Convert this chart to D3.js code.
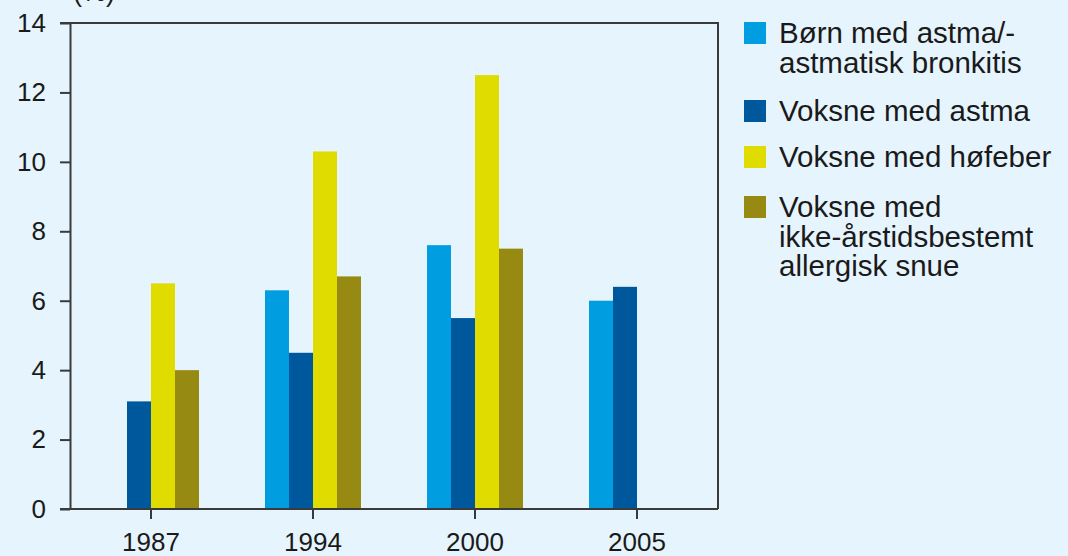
<!DOCTYPE html>
<html>
<head>
<meta charset="utf-8">
<script src="https://cdn.jsdelivr.net/npm/d3@7"></script>
<style>
    body { margin: 0; background: #e6f4fd; overflow: hidden; }
    svg { display: block; font-family: "Liberation Sans", Arial, Helvetica, sans-serif; }
    .axis path, .axis line { stroke: #3a3a3a; stroke-width: 2; }
    .axis text { font-size: 26px; fill: #1a1a1a; }
</style>
</head>
<body>
<script>
(function(){

    //chart data
    var years = ["1987", "1994", "2000", "2005"];
    var seriesNames = [
        ["Børn med astma/-", "astmatisk bronkitis"],
        ["Voksne med astma"],
        ["Voksne med høfeber"],
        ["Voksne med", "ikke-årstidsbestemt", "allergisk snue"]
    ];
    var barnAstma    = [null, 6.3, 7.6, 6.0];
    var voksneAstma  = [3.1, 4.5, 5.5, 6.4];
    var hofeber      = [6.5, 10.3, 12.5, null];
    var allergiSnue  = [4.0, 6.7, 7.5, null];
    var yTicks = [0, 2, 4, 6, 8, 10, 12, 14];

    var colors = ["#009ee0", "#00589c", "#e0dc00", "#968a12"];
    var allSeries = [barnAstma, voksneAstma, hofeber, allergiSnue];

    var width = 1068, height = 556;
    var plot = {left: 70, right: 718, top: 23, bottom: 509};

    var svg = d3.select("body")
        .append("svg")
        .attr("width", width)
        .attr("height", height);

    var x = d3.scaleBand()
        .domain(years)
        .range([plot.left, plot.right]);

    //inner scale for the four bars in a group
    var barW = 24;
    var xInner = d3.scaleBand()
        .domain(d3.range(4))
        .range([-2 * barW, 2 * barW]);

    var y = d3.scaleLinear()
        .domain([0, 14])
        .range([plot.bottom, plot.top]);

    //bars
    allSeries.forEach(function(values, s){
        var rows = years.map(function(yr, i){ return {year: yr, v: values[i]}; })
            .filter(function(d){ return d.v != null; });
        svg.selectAll(".bar-" + s)
            .data(rows)
            .enter()
            .append("rect")
            .attr("class", "bar-" + s)
            .attr("x", function(d){ return x(d.year) + x.bandwidth() / 2 + xInner(s); })
            .attr("width", xInner.bandwidth())
            .attr("y", function(d){ return y(d.v); })
            .attr("height", function(d){ return y(0) - y(d.v); })
            .attr("fill", colors[s]);
    });

    //frame top and right
    svg.append("path")
        .attr("d", "M" + (plot.left - 10) + "," + plot.top + "H" + plot.right + "V" + plot.bottom)
        .attr("fill", "none")
        .attr("stroke", "#3a3a3a")
        .attr("stroke-width", 2);

    //y axis
    svg.append("g")
        .attr("class", "axis")
        .attr("transform", "translate(" + plot.left + ",0)")
        .call(d3.axisLeft(y).tickValues(yTicks).tickSize(10).tickSizeOuter(0).tickPadding(14));

    //x axis
    var xAxis = svg.append("g")
        .attr("class", "axis")
        .attr("transform", "translate(0," + plot.bottom + ")")
        .call(d3.axisBottom(x).tickSize(10).tickSizeOuter(0).tickPadding(14));
    xAxis.select(".domain").attr("d", "M" + (plot.left - 10) + ",0H" + plot.right);
    xAxis.selectAll("text").attr("font-size", "28px");

    //unit label, cut at top as in the original
    svg.append("text")
        .attr("x", 73)
        .attr("y", 1)
        .attr("font-size", "27px")
        .attr("fill", "#1a1a1a")
        .text("(%)");

    svg.append("text")
        .attr("x", -8)
        .attr("y", 548)
        .attr("font-size", "26px")
        .attr("fill", "#1a1a1a")
        .text(")");

    //legend
    var legendY = [22, 100, 146, 196];
    var legend = svg.selectAll(".legend")
        .data(seriesNames)
        .enter()
        .append("g")
        .attr("class", "legend")
        .attr("transform", function(d, i){ return "translate(744," + legendY[i] + ")"; });

    legend.append("rect")
        .attr("width", 22)
        .attr("height", 22)
        .attr("fill", function(d, i){ return colors[i]; });

    legend.each(function(lines){
        var t = d3.select(this).append("text")
            .attr("font-size", "29.5px")
            .attr("fill", "#1a1a1a");
        lines.forEach(function(line, j){
            t.append("tspan")
                .attr("x", 35)
                .attr("y", 21 + j * 29.5)
                .text(line);
        });
    });

})();
</script>
</body>
</html>
